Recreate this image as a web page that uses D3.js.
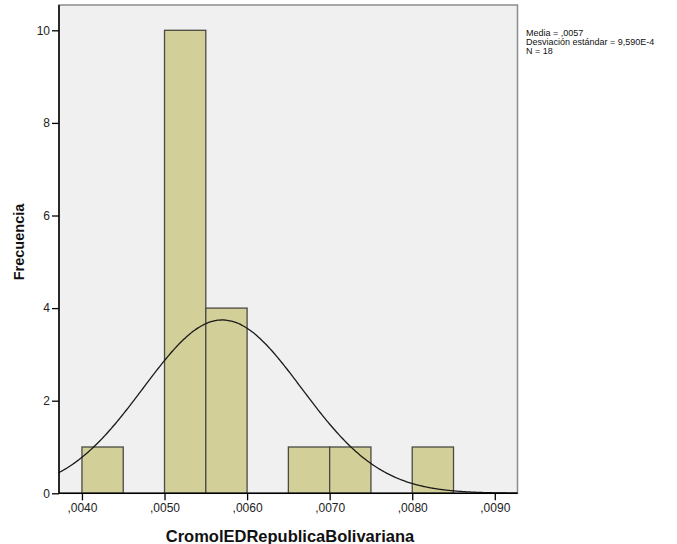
<!DOCTYPE html>
<html>
<head>
<meta charset="utf-8">
<script src="https://cdn.jsdelivr.net/npm/d3@7"></script>
<style>
  body { margin: 0; background: #ffffff; }
  svg { display: block; font-family: Arial, "Liberation Sans", sans-serif; }
</style>
</head>
<body>
<svg id="chart" width="677" height="544"></svg>
<script>
// Histogram bins (lower edge, upper edge) and their frequencies
const binStarts = [0.0040, 0.0050, 0.0055, 0.0065, 0.0070, 0.0080];
const binEnds   = [0.0045, 0.0055, 0.0060, 0.0070, 0.0075, 0.0085];
const counts    = [1, 10, 4, 1, 1, 1];

const xTicks = [0.0040, 0.0050, 0.0060, 0.0070, 0.0080, 0.0090];
const xTickLabels = [",0040", ",0050", ",0060", ",0070", ",0080", ",0090"];
const yTicks = [0, 2, 4, 6, 8, 10];

// Summary statistics shown in the legend, also used for the normal curve
const mean = 0.0057;
const sd = 0.000959;
const n = 18;
const binWidth = 0.0005;
const statLines = ["Media = ,0057", "Desviación estándar = 9,590E-4", "N = 18"];

const svg = d3.select("#chart");
const plotL = 59, plotR = 517.5, plotT = 5, plotB = 493.3;

const x = d3.scaleLinear().domain([0.003722, 0.009275]).range([plotL, plotR]);
const y = d3.scaleLinear().domain([0, 10]).range([plotB, plotB - 463]);

// plot background
svg.append("rect")
  .attr("x", plotL).attr("y", plotT)
  .attr("width", plotR - plotL).attr("height", plotB - plotT)
  .attr("fill", "#f0f0f0")
  .attr("stroke", "#8c8c8c").attr("stroke-width", 1.5);

// bars
svg.append("g").selectAll("rect")
  .data(counts)
  .join("rect")
  .attr("x", (d, i) => x(binStarts[i]))
  .attr("width", (d, i) => x(binEnds[i]) - x(binStarts[i]))
  .attr("y", d => y(d))
  .attr("height", d => y(0) - y(d))
  .attr("fill", "#d3cf98")
  .attr("stroke", "#4a4a44")
  .attr("stroke-width", 1.3);

// fitted normal curve scaled to counts
const curvePts = d3.range(0, 301).map(i => {
  const v = x.domain()[0] + (x.domain()[1] - x.domain()[0]) * i / 300;
  const z = (v - mean) / sd;
  return [v, n * binWidth * Math.exp(-0.5 * z * z) / (sd * Math.sqrt(2 * Math.PI))];
});
svg.append("path")
  .datum(curvePts)
  .attr("fill", "none")
  .attr("stroke", "#1a1a1a")
  .attr("stroke-width", 1.3)
  .attr("d", d3.line().x(d => x(d[0])).y(d => y(d[1])).curve(d3.curveBasis));

// axes
const yAxis = d3.axisLeft(y).tickValues(yTicks).tickSize(7).tickPadding(2);
const gy = svg.append("g").attr("transform", `translate(${plotL},0)`).call(yAxis);
gy.select(".domain").attr("d", `M0,${plotT}V${plotB}`).attr("stroke", "#000").attr("stroke-width", 1.5);

const xAxis = d3.axisBottom(x).tickValues(xTicks).tickFormat((d, i) => xTickLabels[i]).tickSize(7).tickPadding(3);
const gx = svg.append("g").attr("transform", `translate(0,${plotB})`).call(xAxis);
gx.select(".domain").attr("d", `M${plotL},0H${plotR}`).attr("stroke", "#000").attr("stroke-width", 1.5);

[gx, gy].forEach(g => {
  g.selectAll(".tick line").attr("stroke", "#000").attr("stroke-width", 1.3);
  g.selectAll(".tick text").attr("fill", "#222").attr("font-size", 12)
    .attr("font-family", "Arial, 'Liberation Sans', sans-serif");
});

// axis titles
svg.append("text")
  .attr("x", 290).attr("y", 542)
  .attr("text-anchor", "middle")
  .attr("font-weight", "bold").attr("font-size", 16.5)
  .attr("fill", "#111")
  .text("CromolEDRepublicaBolivariana");

svg.append("text")
  .attr("transform", "translate(23.5,242) rotate(-90)")
  .attr("text-anchor", "middle")
  .attr("font-weight", "bold").attr("font-size", 14.5)
  .attr("fill", "#111")
  .text("Frecuencia");

// statistics box text
svg.append("g").selectAll("text")
  .data(statLines)
  .join("text")
  .attr("x", 526)
  .attr("y", (d, i) => 35.5 + i * 9)
  .attr("font-size", 9)
  .attr("fill", "#111")
  .text(d => d);
</script>
</body>
</html>
